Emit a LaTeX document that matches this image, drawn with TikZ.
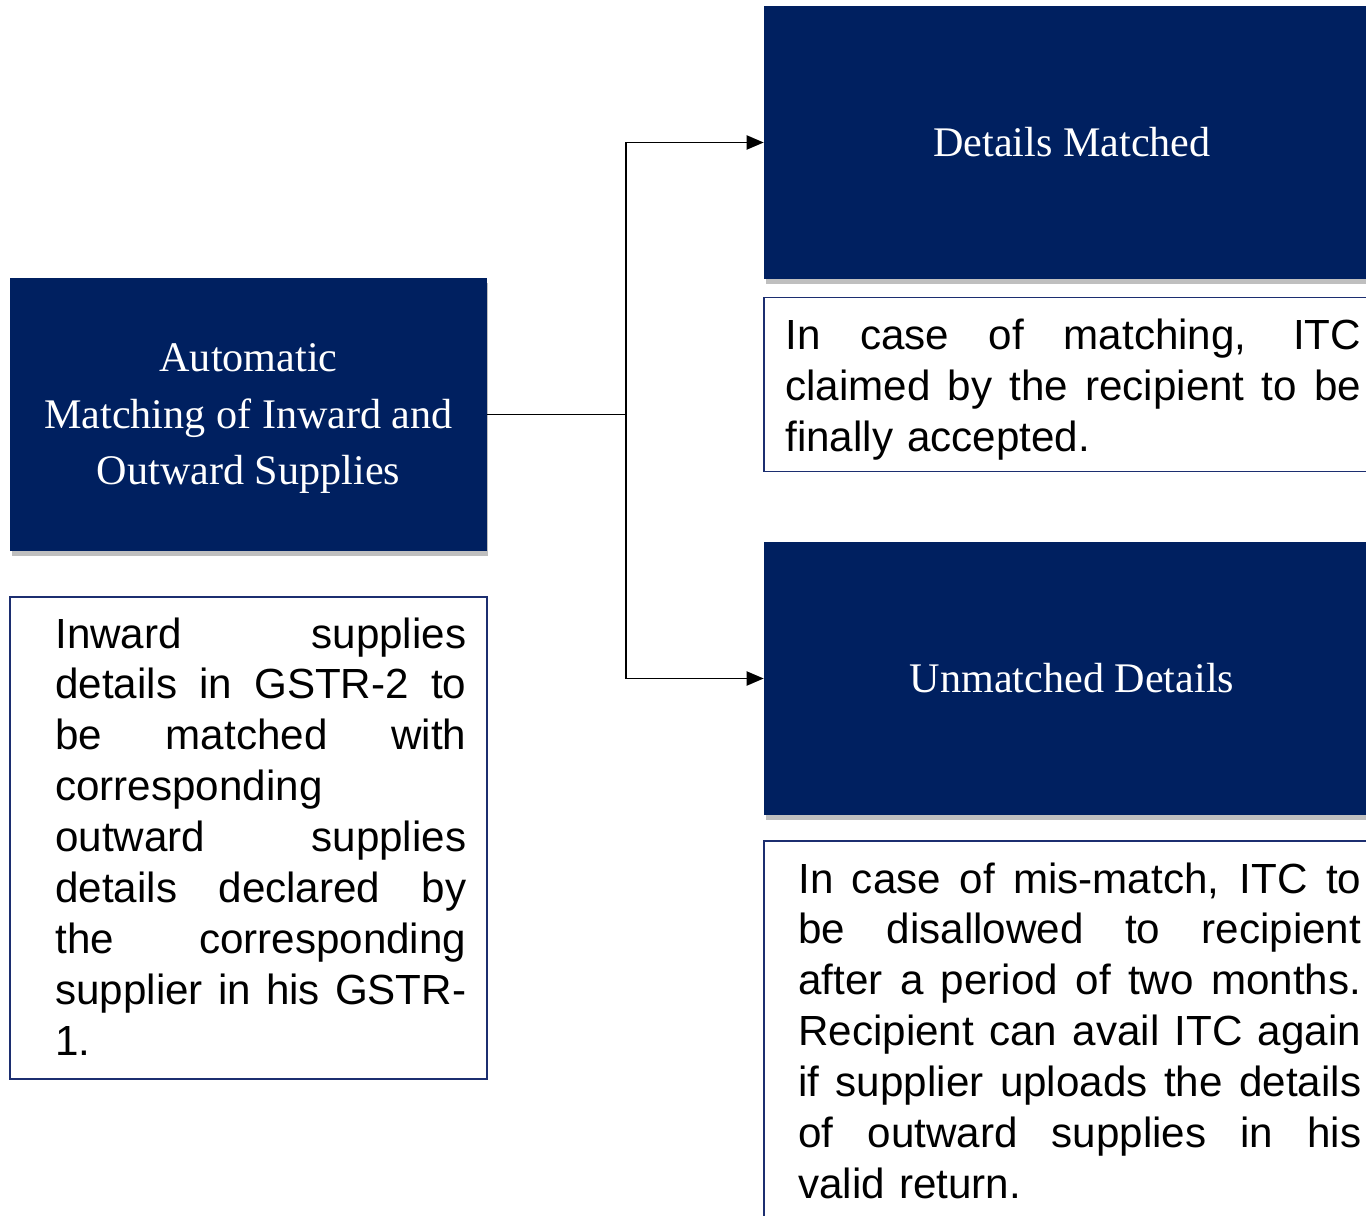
\documentclass[tikz,border=0pt]{standalone}
\usepackage{fontspec}
\setmainfont{Liberation Serif}
\setsansfont{Liberation Sans}
\usetikzlibrary{arrows.meta,shadows}
\definecolor{navy}{RGB}{0,32,96}
\definecolor{rimblue}{RGB}{28,46,112}
\newlength{\jw}

\begin{document}
\begin{tikzpicture}[x=0.02cm,y=-0.02cm,
  darkbox/.style={fill=navy,text=white,align=center,inner sep=0pt,
    font=\fontsize{24}{32.4}\selectfont,
    drop shadow={shadow xshift=0.03cm,shadow yshift=-0.1cm,opacity=0.25,fill=black}},
  notebox/.style={draw=rimblue,line width=1.1pt,fill=white,inner sep=0pt},
  notetext/.style={anchor=base west,inner sep=0pt,align=left,text width=#1,
    execute at begin node={\setlength{\jw}{#1}},
    font=\sffamily\fontsize{24}{29}\selectfont},
  conn/.style={line width=1.1pt,-{Triangle[length=0.34cm,width=0.28cm]}}]
\def\jline#1{\leavevmode\hbox to \jw{\spaceskip=\fontdimen2\font plus 1fil\relax #1}}

\useasboundingbox (0,0) rectangle (1366,1216);
\clip (0,0) rectangle (1366,1216);

% left column
\node[darkbox,minimum width=9.54cm,minimum height=5.46cm] (main) at (248.5,414.5)
  {\rule{0pt}{20.5pt}Automatic\\Matching of Inward and\\Outward Supplies};
\node[notebox,minimum width=9.54cm,minimum height=9.66cm] (leftbox) at (248.5,838) {};
\node[notetext=8.22cm] (lefttext) at (55,648)
  {\jline{Inward supplies}\\
   \jline{details in GSTR-2 to}\\
   \jline{be matched with}\\
   corresponding\\
   \jline{outward supplies}\\
   \jline{details declared by}\\
   \jline{the corresponding}\\
   \jline{supplier in his GSTR-}\\
   1.};

% right column
\node[darkbox,minimum width=12.32cm,minimum height=5.46cm] (matched) at (1072,142.5)
  {Details Matched};
\node[notebox,minimum width=12.32cm,minimum height=3.48cm] (matchbox) at (1072,384.5) {};
\node[notetext=11.52cm] (matchtext) at (785,350)
  {\jline{In case of matching, ITC}\\
   \jline{claimed by the recipient to be}\\
   finally accepted.};

\node[darkbox,minimum width=12.32cm,minimum height=5.46cm] (unmatched) at (1072,678.5)
  {Unmatched Details};
\node[notebox,minimum width=12.32cm,minimum height=8cm] (missbox) at (1072,1041) {};
\node[notetext=11.26cm] (misstext) at (798,893)
  {\jline{In case of mis-match, ITC to}\\
   \jline{be disallowed to recipient}\\
   \jline{after a period of two months.}\\
   \jline{Recipient can avail ITC again}\\
   \jline{if supplier uploads the details}\\
   \jline{of outward supplies in his}\\
   valid return.};

% connectors
\coordinate (split) at (626,414.5);
\draw[conn] (main.east) -- (split) |- (matched.west);
\draw[conn] (split) |- (unmatched.west);
\end{tikzpicture}
\end{document}
